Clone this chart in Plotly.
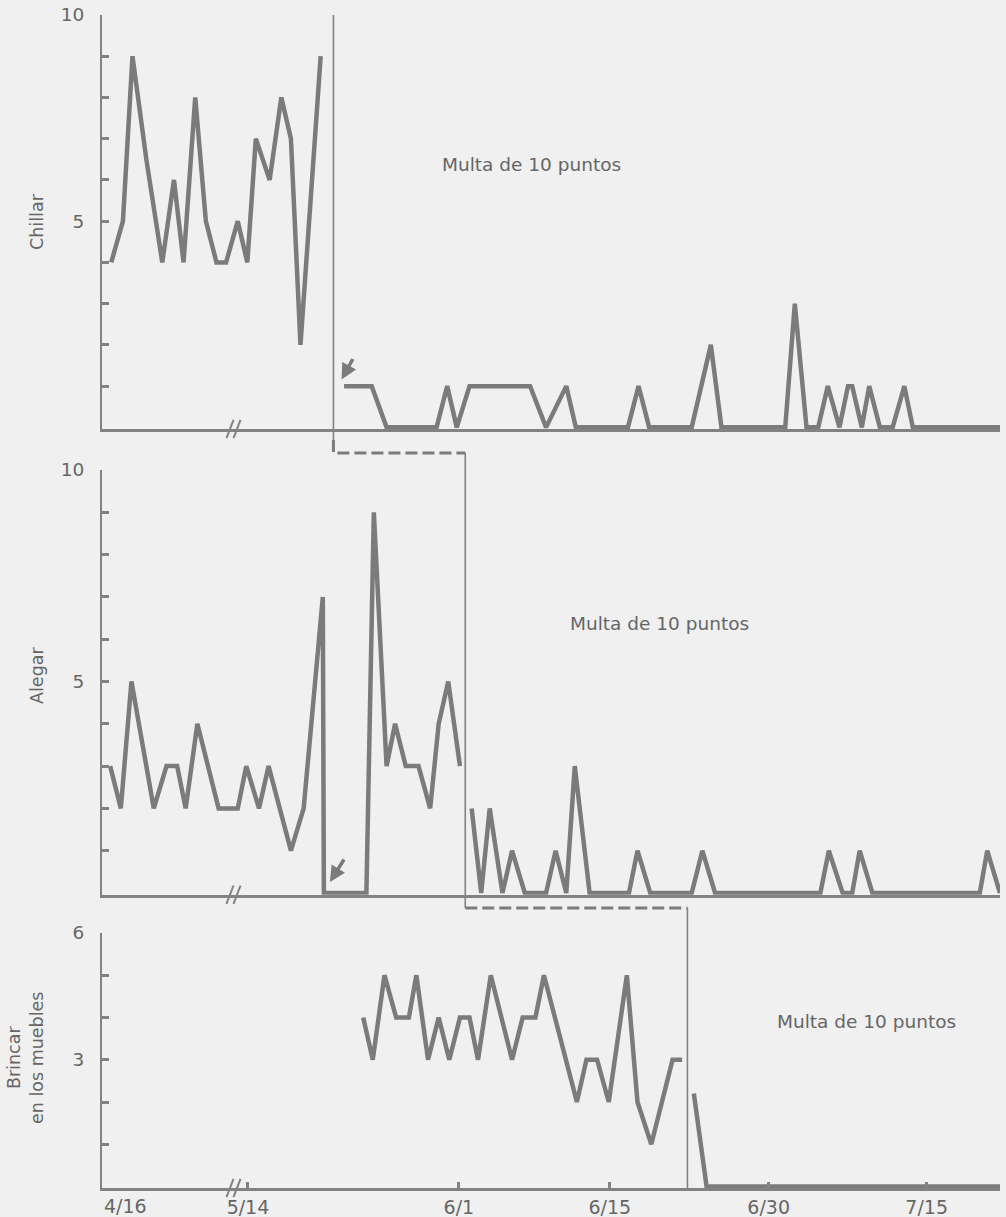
import plotly.graph_objects as go

# ---------------- data (x = plotting day position, y = responses per day) ----------------
chillar_base_x = [1.3, 2.4, 3.3, 4.6, 6.1, 7.2, 8.1, 9.2, 10.2, 11.2, 12.1, 13.2, 14.1, 14.9, 16.2, 17.3, 18.2, 19.1, 21.0]
chillar_base_y = [4, 5, 9, 6.5, 4, 6, 4, 8, 5, 4, 4, 5, 4, 7, 6, 8, 7, 2, 9]
chillar_fine_x = [23.2, 25.8, 27.2, 31.9, 32.9, 33.8, 35.0, 40.7, 42.2, 44.1, 45.0, 49.9, 50.9, 51.9, 55.9, 57.7,
                  58.7, 64.7, 65.6, 66.7, 67.8, 68.7, 69.8, 70.6, 71.0, 71.9, 72.6, 73.6, 74.8, 75.9, 76.7, 84.9]
chillar_fine_y = [1, 1, 0, 0, 1, 0, 1, 1, 0, 1, 0, 0, 1, 0, 0, 2,
                  0, 0, 3, 0, 0, 1, 0, 1, 1, 0, 1, 0, 0, 1, 0, 0]

alegar_base_x = [1.2, 2.2, 3.2, 5.3, 6.5, 7.5, 8.3, 9.4, 11.4, 13.2, 14.0, 15.2, 16.1, 18.2, 19.4, 21.2, 21.3,
                 25.3, 26.0, 27.2, 28.0, 29.0, 30.2, 31.3, 32.1, 33.0, 34.1]
alegar_base_y = [3, 2, 5, 2, 3, 3, 2, 4, 2, 2, 3, 2, 3, 1, 2, 7, 0,
                 0, 9, 3, 4, 3, 3, 2, 4, 5, 3]
alegar_fine_x = [35.2, 36.1, 36.9, 38.1, 39.0, 40.2, 42.2, 43.1, 44.1, 44.9, 46.3, 50.0, 50.8, 52.0, 55.9, 56.9,
                 58.1, 68.0, 68.8, 70.1, 71.0, 71.7, 72.9, 83.0, 83.7, 84.9]
alegar_fine_y = [2, 0, 2, 0, 1, 0, 0, 1, 0, 3, 0, 0, 1, 0, 0, 1,
                 0, 0, 1, 0, 0, 1, 0, 0, 1, 0]

brincar_base_x = [25.0, 25.9, 27.0, 28.1, 29.3, 30.0, 31.1, 32.1, 33.1, 34.1, 35.0, 35.8, 37.0, 39.0, 40.0, 41.2,
                  42.0, 45.1, 46.0, 47.0, 48.1, 49.8, 50.8, 52.1, 54.1, 55.0]
brincar_base_y = [4, 3, 5, 4, 4, 5, 3, 4, 3, 4, 4, 3, 5, 3, 4, 4,
                  5, 2, 3, 3, 2, 5, 2, 1, 3, 3]
brincar_fine_x = [56.1, 57.3, 84.9]
brincar_fine_y = [2.2, 0, 0]

phase_x = [22.2, 34.6, 55.5]          # start of "Multa de 10 puntos" for each behaviour
arrow_x = [22.97, 21.87]              # days marked with an arrow (Chillar, Alegar)
arrow_y = [1.16, 0.26]

date_tick_vals = [14.16, 34.0, 48.2, 63.14, 78.0]
date_tick_text = ['5/14', '6/1', '6/15', '6/30', '7/15']
first_date_val = 2.6
first_date_text = '4/16'
break_x = 12.8

panel_titles = ['Chillar', 'Alegar', 'Brincar<br>en los muebles']
phase_label = 'Multa de 10 puntos'

# ---------------- styling ----------------
BG = '#f0f0f0'
LINE = '#7b7b7b'
AX = '#828282'
TXT = '#666666'
FONT = 'DejaVu Sans'
X_RANGE = [0.43, 84.9]

top_dom = [0.6443, 0.9958]
mid_dom = [0.2490, 0.6095]
bot_dom = [0.0, 0.2165]

fig = go.Figure()

def add_line(x, y, xa, ya):
    fig.add_trace(go.Scatter(x=x, y=y, mode='lines', xaxis=xa, yaxis=ya,
                             line=dict(color=LINE, width=4.5), hoverinfo='skip'))

add_line(chillar_base_x, chillar_base_y, 'x', 'y')
add_line(chillar_fine_x, chillar_fine_y, 'x', 'y')
add_line(alegar_base_x, alegar_base_y, 'x2', 'y2')
add_line(alegar_fine_x, alegar_fine_y, 'x2', 'y2')
add_line(brincar_base_x, brincar_base_y, 'x3', 'y3')
add_line(brincar_fine_x, brincar_fine_y, 'x3', 'y3')

def xax(anchor, show_ticks=False):
    d = dict(domain=[0, 1], anchor=anchor, range=X_RANGE, showgrid=False, zeroline=False,
             showline=True, linecolor=AX, linewidth=2.5, automargin=False)
    if show_ticks:
        d.update(tickmode='array', tickvals=date_tick_vals, ticktext=date_tick_text,
                 ticks='inside', ticklen=6, tickwidth=2.5, tickcolor=AX,
                 tickfont=dict(family=FONT, size=19, color=TXT))
    else:
        d.update(showticklabels=False, ticks='')
    return d

# overlay axis that only draws the lower half of the crossing date ticks
x_tick_overlay = dict(domain=[0, 1], anchor='y3', overlaying='x3', range=X_RANGE, showgrid=False,
                      zeroline=False, showline=False, showticklabels=False, automargin=False,
                      tickmode='array', tickvals=date_tick_vals, ticks='outside', ticklen=5,
                      tickwidth=2.5, tickcolor=AX)

def yax(anchor, dom, top, labels):
    vals = list(range(1, top + 1))
    text = [str(v) if v in labels else '' for v in vals]
    return dict(domain=dom, anchor=anchor, range=[-0.04 if top == 10 else -0.035, top],
                showgrid=False, zeroline=False, showline=True, linecolor=AX, linewidth=2,
                tickmode='array', tickvals=vals, ticktext=text, ticks='inside', ticklen=7,
                tickwidth=2.5, tickcolor=AX, ticklabelstandoff=12, automargin=False,
                tickfont=dict(family=FONT, size=18.5, color=TXT))

shapes = []
# phase-change lines (solid) and dashed staircase connectors
PY = lambda px: (1188 - px) / 1178.0
lvl1_top, lvl1_bot = PY(440), PY(453)
lvl2 = PY(908)
shapes.append(dict(type='line', xref='x', yref='paper', x0=phase_x[0], x1=phase_x[0], y0=lvl1_top, y1=top_dom[1],
                   line=dict(color=AX, width=1.6)))
shapes.append(dict(type='line', xref='x', yref='paper', x0=phase_x[1], x1=phase_x[1], y0=lvl2, y1=lvl1_bot,
                   line=dict(color=AX, width=1.6)))
shapes.append(dict(type='line', xref='x', yref='paper', x0=phase_x[2], x1=phase_x[2], y0=0, y1=lvl2,
                   line=dict(color=AX, width=1.6)))
shapes.append(dict(type='path', xref='x', yref='paper',
                   path=f'M {phase_x[0]},{lvl1_top} L {phase_x[0]},{lvl1_bot} L {phase_x[1]},{lvl1_bot}',
                   line=dict(color=LINE, width=3, dash='12px,5px')))
shapes.append(dict(type='path', xref='x', yref='paper',
                   path=f'M {phase_x[1]},{lvl2} L {phase_x[2]},{lvl2}',
                   line=dict(color=LINE, width=3, dash='12px,5px')))
# axis-break marks
d = 0.0078
for yb in [top_dom[0], mid_dom[0], bot_dom[0]]:
    for off in [-0.66, 0.0]:
        shapes.append(dict(type='line', xref='x', yref='paper', x0=break_x + off, y0=yb - d,
                           x1=break_x + off + 0.66, y1=yb + d, line=dict(color=AX, width=2)))

ann = []
ann.append(dict(x=40.8, y=6.37, xref='x', yref='y', text=phase_label, showarrow=False,
                font=dict(family=FONT, size=18.5, color=TXT)))
ann.append(dict(x=52.9, y=6.38, xref='x2', yref='y2', text=phase_label, showarrow=False,
                font=dict(family=FONT, size=18.5, color=TXT)))
ann.append(dict(x=72.3, y=3.9, xref='x3', yref='y3', text=phase_label, showarrow=False,
                font=dict(family=FONT, size=18.5, color=TXT)))
for t, xp, yp in zip(panel_titles, [-0.0724, -0.0724, -0.0846], [0.8209, 0.4355, 0.1104]):
    ann.append(dict(x=xp, y=yp, xref='paper', yref='paper', text=t, textangle=-90, showarrow=False,
                    xanchor='center', yanchor='middle', font=dict(family=FONT, size=17.5, color=TXT)))
ann.append(dict(x=first_date_val, y=0, xref='x3', yref='paper', yanchor='top', yshift=-5,
                text=first_date_text, showarrow=False, font=dict(family=FONT, size=19, color=TXT)))
for (xa, ya), xv, yv, axo, ayo in zip([('x', 'y'), ('x2', 'y2')], arrow_x, arrow_y, [12, 15], [-22, -24]):
    ann.append(dict(x=xv, y=yv, xref=xa, yref=ya, text='', showarrow=True, ax=axo, ay=ayo,
                    arrowhead=2, arrowsize=0.9, arrowwidth=3.5, arrowcolor=LINE, standoff=0))

fig.update_layout(
    width=1006, height=1217, autosize=False,
    margin=dict(l=102, r=6, t=10, b=29),
    paper_bgcolor=BG, plot_bgcolor=BG,
    showlegend=False, hovermode=False,
    xaxis=xax('y'), xaxis2=xax('y2'), xaxis3=xax('y3', show_ticks=True), xaxis4=x_tick_overlay,
    yaxis=yax('x', top_dom, 10, [5, 10]),
    yaxis2=yax('x2', mid_dom, 10, [5, 10]),
    yaxis3=yax('x3', bot_dom, 6, [3, 6]),
    shapes=shapes, annotations=ann,
)

fig.write_html('out.html', config={'displayModeBar': False},
               post_script="document.body.style.margin='0';document.body.style.overflow='hidden';")
